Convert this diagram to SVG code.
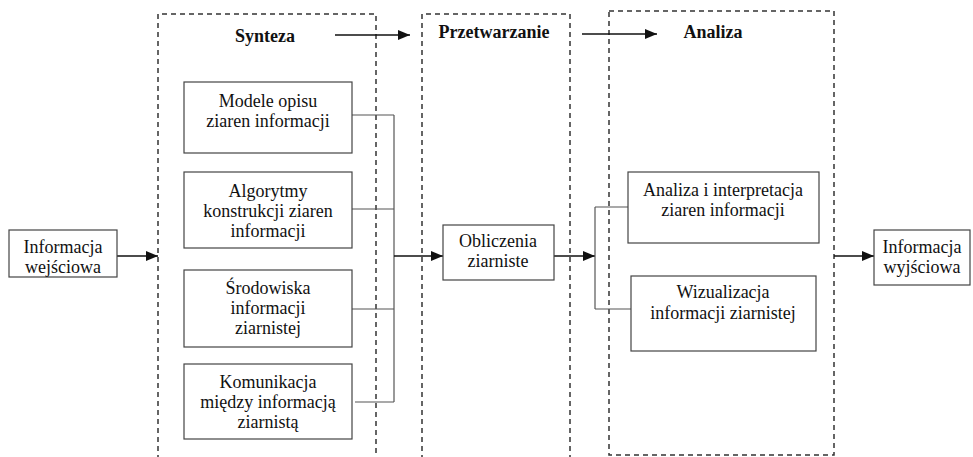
<svg xmlns="http://www.w3.org/2000/svg" width="973" height="457" viewBox="0 0 973 457">
<style>
  .bg{fill:#fff}
  .phase{fill:none;stroke:#333;stroke-width:1.5;stroke-dasharray:5 4}
  .box{fill:#fff;stroke:#444;stroke-width:1.2}
  .link{fill:none;stroke:#555;stroke-width:1.2}
  .arrow{fill:none;stroke:#111;stroke-width:1.5;marker-end:url(#ah)}
</style>
<defs>
  <marker id="ah" viewBox="0 0 12 10" refX="12" refY="5" markerWidth="12" markerHeight="10" markerUnits="userSpaceOnUse" orient="auto">
    <path d="M0,0 L12,5 L0,10 Z" fill="#111"/>
  </marker>
</defs>
<rect class="bg" x="0" y="0" width="973" height="457"/>

<g id="phase-synteza">
  <path class="phase" d="M158,460 L158,14 L376,14 L376,460"/>
  <text font-family="Liberation Serif, Times New Roman, serif" font-size="18" font-weight="bold" text-anchor="middle" fill="#111" x="265" y="42">Synteza</text>
</g>
<g id="phase-przetwarzanie">
  <path class="phase" d="M422,460 L422,14 L570,14 L570,460"/>
  <text font-family="Liberation Serif, Times New Roman, serif" font-size="18" font-weight="bold" text-anchor="middle" fill="#111" x="494" y="38">Przetwarzanie</text>
</g>
<g id="phase-analiza">
  <rect class="phase" x="609" y="11" width="225" height="444"/>
  <text font-family="Liberation Serif, Times New Roman, serif" font-size="18" font-weight="bold" text-anchor="middle" fill="#111" x="713" y="38">Analiza</text>
</g>

<g id="connectors">
  <line class="arrow" x1="335" y1="35" x2="410" y2="35"/>
  <line class="arrow" x1="582" y1="34" x2="657" y2="34"/>
  <line class="arrow" x1="117" y1="256" x2="158" y2="256"/>
  <line class="link" x1="352" y1="115" x2="394" y2="115"/>
  <line class="link" x1="352" y1="209" x2="394" y2="209"/>
  <line class="link" x1="352" y1="309" x2="394" y2="309"/>
  <line class="link" x1="355" y1="402" x2="394" y2="402"/>
  <line class="link" x1="394" y1="115" x2="394" y2="402"/>
  <line class="arrow" x1="394" y1="256" x2="443" y2="256"/>
  <line class="arrow" x1="554" y1="256" x2="595" y2="256"/>
  <line class="link" x1="595" y1="207" x2="595" y2="309"/>
  <line class="link" x1="595" y1="207" x2="628" y2="207"/>
  <line class="link" x1="595" y1="309" x2="631" y2="309"/>
  <line class="arrow" x1="834" y1="256" x2="874" y2="256"/>
</g>

<g id="informacja-wejsciowa" font-family="Liberation Serif, Times New Roman, serif" font-size="18" text-anchor="middle" fill="#111">
  <rect class="box" x="9" y="230" width="108" height="47"/>
  <text x="63" y="253">Informacja</text>
  <text x="63" y="273">wejściowa</text>
</g>
<g id="modele-opisu" font-family="Liberation Serif, Times New Roman, serif" font-size="18" text-anchor="middle" fill="#111">
  <rect class="box" x="184" y="82" width="168" height="71"/>
  <text x="268" y="107">Modele opisu</text>
  <text x="268" y="127">ziaren informacji</text>
</g>
<g id="algorytmy" font-family="Liberation Serif, Times New Roman, serif" font-size="18" text-anchor="middle" fill="#111">
  <rect class="box" x="184" y="172" width="168" height="76"/>
  <text x="268" y="197">Algorytmy</text>
  <text x="268" y="217">konstrukcji ziaren</text>
  <text x="268" y="237">informacji</text>
</g>
<g id="srodowiska" font-family="Liberation Serif, Times New Roman, serif" font-size="18" text-anchor="middle" fill="#111">
  <rect class="box" x="184" y="270" width="168" height="77"/>
  <text x="268" y="294">Środowiska</text>
  <text x="268" y="314">informacji</text>
  <text x="268" y="334">ziarnistej</text>
</g>
<g id="komunikacja" font-family="Liberation Serif, Times New Roman, serif" font-size="18" text-anchor="middle" fill="#111">
  <rect class="box" x="184" y="364" width="168" height="75"/>
  <text x="268" y="388">Komunikacja</text>
  <text x="268" y="408">między informacją</text>
  <text x="268" y="428">ziarnistą</text>
</g>
<g id="obliczenia" font-family="Liberation Serif, Times New Roman, serif" font-size="18" text-anchor="middle" fill="#111">
  <rect class="box" x="443" y="225" width="111" height="55"/>
  <text x="498" y="247">Obliczenia</text>
  <text x="498" y="267">ziarniste</text>
</g>
<g id="analiza-interpretacja" font-family="Liberation Serif, Times New Roman, serif" font-size="18" text-anchor="middle" fill="#111">
  <rect class="box" x="628" y="172" width="191" height="71"/>
  <text x="723" y="196">Analiza i interpretacja</text>
  <text x="723" y="216">ziaren informacji</text>
</g>
<g id="wizualizacja" font-family="Liberation Serif, Times New Roman, serif" font-size="18" text-anchor="middle" fill="#111">
  <rect class="box" x="631" y="276" width="185" height="75"/>
  <text x="723" y="298">Wizualizacja</text>
  <text x="723" y="319">informacji ziarnistej</text>
</g>
<g id="informacja-wyjsciowa" font-family="Liberation Serif, Times New Roman, serif" font-size="18" text-anchor="middle" fill="#111">
  <rect class="box" x="874" y="230" width="96" height="55"/>
  <text x="922" y="253">Informacja</text>
  <text x="922" y="273">wyjściowa</text>
</g>
</svg>
